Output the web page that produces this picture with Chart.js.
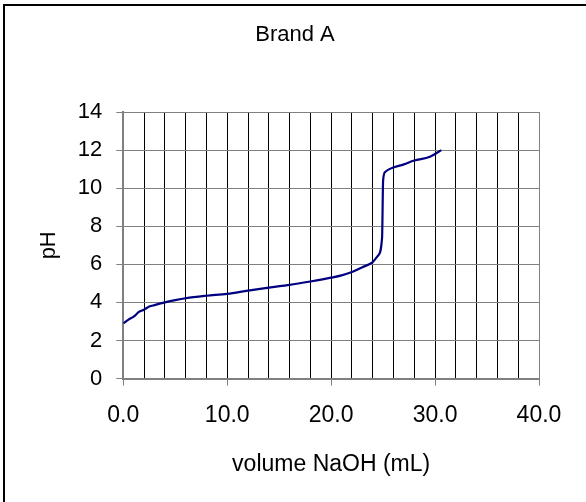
<!DOCTYPE html>
<html>
<head>
<meta charset="utf-8">
<script src="https://cdn.jsdelivr.net/npm/chart.js@4.4.1/dist/chart.umd.min.js"></script>
<style>
  html, body { margin: 0; padding: 0; background: #fff; overflow: hidden; }
  #wrap { position: relative; width: 586px; height: 502px; }
  #frame { position: absolute; left: 3px; top: 4px; width: 600px; height: 520px; border: 2px solid #000; pointer-events: none; }
  canvas { position: absolute; left: 0; top: 0; }
</style>
</head>
<body>
<div id="wrap">
  <canvas id="c" width="586" height="502"></canvas>
  <div id="frame"></div>
</div>
<script>
const chartTitle = "Brand A";
const xAxisTitle = "volume NaOH (mL)";
const yAxisTitle = "pH";
const volume = [0, 0.5, 1.0, 1.5, 2.0, 2.5, 3.0, 4.0, 5.0, 6.0, 8.0, 10.0, 12.0, 14.0, 16.0, 18.0, 20.0, 21.0, 22.0, 23.0, 24.0, 24.5, 24.9, 25.0, 25.2, 25.6, 27.0, 28.0, 29.5, 30.6];
const pH = [2.9, 3.1, 3.25, 3.5, 3.62, 3.78, 3.86, 4.0, 4.12, 4.22, 4.35, 4.45, 4.62, 4.78, 4.92, 5.1, 5.3, 5.42, 5.6, 5.85, 6.12, 6.45, 7.4, 10.4, 10.85, 11.0, 11.25, 11.45, 11.65, 12.0];
const xTickLabels = ["0.0", "10.0", "20.0", "30.0", "40.0"];
const yTickLabels = ["0", "2", "4", "6", "8", "10", "12", "14"];

const FONT = "'Liberation Sans', Arial, sans-serif";
const points = volume.map((v, i) => ({ x: v, y: pH[i] }));

const titlePlugin = {
  id: 'topTitle',
  afterDraw(chart) {
    const ctx = chart.ctx;
    ctx.save();
    ctx.font = "22px " + FONT;
    ctx.fillStyle = "#000";
    ctx.textAlign = "center";
    ctx.textBaseline = "middle";
    ctx.fillText(chartTitle, chart.width / 2 + 2, chart.chartArea.top - 77);
    ctx.restore();
  }
};

new Chart(document.getElementById('c'), {
  type: 'scatter',
  data: {
    datasets: [{
      data: points,
      showLine: true,
      borderColor: '#000080',
      borderWidth: 2.2,
      pointRadius: 0,
      cubicInterpolationMode: 'monotone',
      fill: false
    }]
  },
  plugins: [titlePlugin],
  options: {
    responsive: false,
    animation: false,
    devicePixelRatio: 1,
    layout: { padding: { top: 112, right: 47, left: 0, bottom: 0 } },
    plugins: { legend: { display: false }, tooltip: { enabled: false }, title: { display: false } },
    scales: {
      x: {
        type: 'linear',
        min: 0, max: 40,
        afterBuildTicks(scale) {
          const t = [];
          for (let v = 0; v <= 40; v += 2) t.push({ value: v });
          scale.ticks = t;
        },
        afterFit(scale) { scale.height = 123.4; },
        ticks: {
          autoSkip: false,
          maxRotation: 0,
          padding: 16,
          color: '#000',
          font: { family: FONT, size: 23 },
          callback(v) { return v % 10 === 0 ? xTickLabels[v / 10] : ''; }
        },
        grid: {
          color(ctx) { return ctx.tick && ctx.tick.value === 40 ? '#808080' : '#000'; },
          tickColor(ctx) { return ctx.tick && ctx.tick.value % 10 === 0 ? '#808080' : 'rgba(0,0,0,0)'; },
          tickLength: 7,
          lineWidth: 1
        },
        border: { color: '#808080', width: 2 },
        title: {
          display: true, text: xAxisTitle, color: '#000',
          font: { family: FONT, size: 23 },
          padding: { top: 0, bottom: 24 }
        }
      },
      y: {
        min: 0, max: 14,
        afterBuildTicks(scale) {
          scale.ticks = yTickLabels.map(s => ({ value: Number(s) }));
        },
        afterFit(scale) { scale.width = 123.3; },
        ticks: {
          padding: 14,
          color: '#000',
          font: { family: FONT, size: 22 },
          callback(v) { return yTickLabels[v / 2]; }
        },
        grid: { color: '#808080', tickColor: '#808080', tickLength: 7, lineWidth: 1 },
        border: { color: '#808080', width: 2 },
        title: {
          display: true, text: yAxisTitle, color: '#000',
          font: { family: FONT, size: 22 },
          padding: { top: 36, bottom: 0 }
        }
      }
    }
  }
});
</script>
</body>
</html>
